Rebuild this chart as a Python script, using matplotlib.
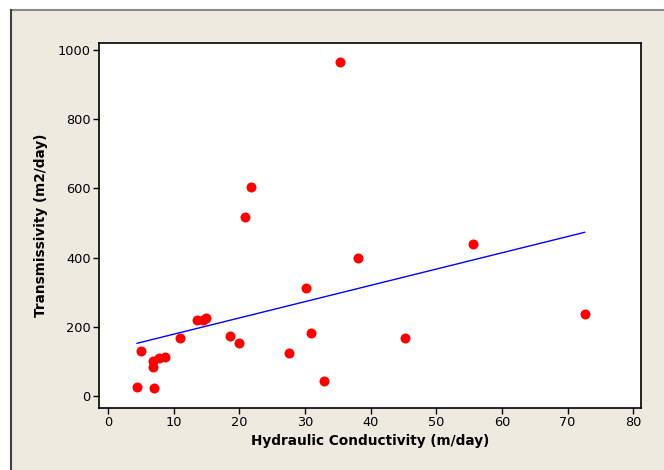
import matplotlib
matplotlib.use("Agg")
import matplotlib.pyplot as plt
import numpy as np
from matplotlib.patches import Rectangle
from matplotlib.lines import Line2D

# Hydraulic conductivity (m/day) and transmissivity (m2/day)
conductivity = [35.4, 21.7, 20.8, 5.0, 4.4, 7.0, 6.8, 6.8, 7.7, 8.6, 11.0,
                13.6, 14.5, 14.9, 18.6, 20.0, 27.5, 30.1, 30.9, 32.9, 38.0,
                55.6, 45.2, 72.6]
transmissivity = [964, 604, 516, 130, 27, 23, 85, 103, 110, 113, 169,
                  221, 221, 227, 175, 154, 126, 311, 182, 43, 398,
                  440, 169, 238]
x_ticks = [0, 10, 20, 30, 40, 50, 60, 70, 80]
y_ticks = [0, 200, 400, 600, 800, 1000]

plt.rcParams['font.family'] = ['DejaVu Sans']

fig = plt.figure(figsize=(6.64, 4.70), dpi=100, facecolor='white')

# beige panel with a grey frame on top and left
W, H = 664.0, 470.0
fig.patches.append(Rectangle((11 / W, 0), 1 - 11 / W, 1 - 10 / H,
                             transform=fig.transFigure, facecolor='#eeeae0',
                             edgecolor='none', zorder=-2))
fig.lines.append(Line2D([11 / W, 1], [1 - 10 / H, 1 - 10 / H],
                        transform=fig.transFigure, color='#8a8a8a', lw=1.5,
                        zorder=-1))
fig.lines.append(Line2D([11 / W, 11 / W], [0, 1 - 10 / H],
                        transform=fig.transFigure, color='#404040', lw=1.5,
                        zorder=-1))

ax = fig.add_axes([99 / W, 1 - 408 / H, (641 - 99) / W, (408 - 43) / H])
ax.set_facecolor('white')

x = np.array(conductivity)
y = np.array(transmissivity)
ax.scatter(x, y, s=52, color='#ff0000', zorder=3, linewidths=0)

# fitted regression line over the data range
slope, intercept = np.polyfit(x, y, 1)
xf = np.array([x.min(), x.max()])
ax.plot(xf, intercept + slope * xf, color='#0000ff', lw=1, zorder=2)

ax.set_xlim(-1.4, 81.2)
ax.set_ylim(-34, 1019)
ax.set_xticks(x_ticks)
ax.set_yticks(y_ticks)
ax.tick_params(direction='out', length=4, width=1, labelsize=9.3, pad=2,
               color='black')
for s in ax.spines.values():
    s.set_linewidth(1.2)

ax.set_xlabel('Hydraulic Conductivity (m/day)', fontsize=9.8,
              fontweight='bold', labelpad=3)
ax.set_ylabel('Transmissivity (m2/day)', fontsize=9.8, fontweight='bold',
              labelpad=7)

fig.savefig('out.png', dpi=100, facecolor=fig.get_facecolor())
